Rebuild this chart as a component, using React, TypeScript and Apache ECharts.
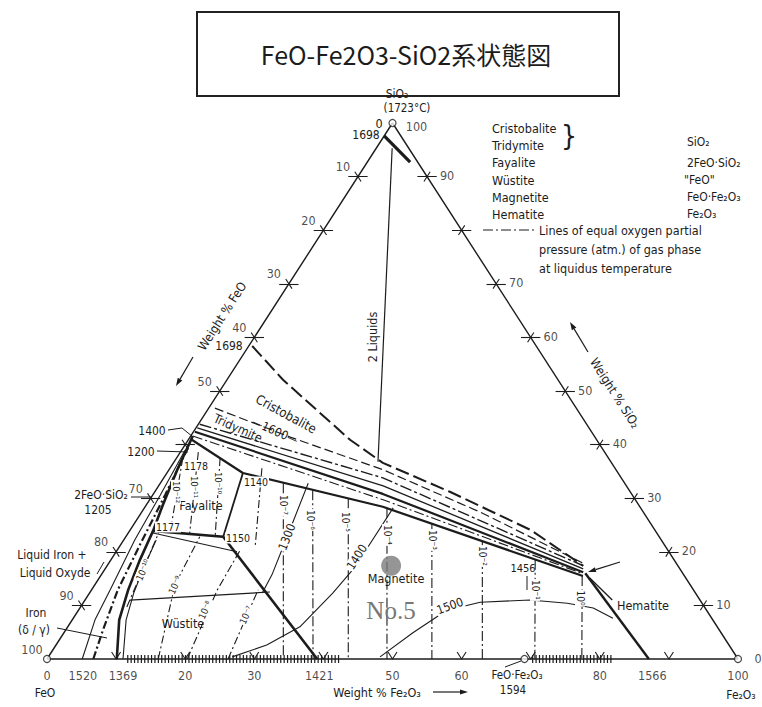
import React, { useEffect, useRef } from "react";
import * as echarts from "echarts";

// Every composition is [wt% Fe2O3, wt% SiO2]; wt% FeO = 100 - Fe2O3 - SiO2
const frame = [[0, 0], [100, 0], [0, 100], [0, 0]];
const tickValues = [10, 20, 30, 40, 50, 60, 70, 80, 90];
const leftTickLabels = [10, 20, 30, 40, 50, 70, 80, 90, 100]; // wt% FeO
const rightTickLabels = [0, 10, 20, 30, 40, 50, 60, 70, 90]; // wt% SiO2
const bottomTickLabels = [0, 20, 30, 50, 60, 80, 100]; // wt% Fe2O3
const bottomTempNames = ["1520", "1369", "1421", "1566"];
const bottomTempFe2O3 = [5.2, 11.0, 39.4, 87.6];

const twoLiquids = [[2.3, 95.3], [29.5, 36.8]];
const apexLiquidus = [[0, 97.6], [6.2, 92.7]];
const cristobaliteLiquidus = [[0.5, 58.4], [8.1, 52.1], [23.4, 40.9], [30.3, 36.6], [42.7, 31.2], [57.9, 24.1], [68.9, 17.4]];
const iso1600 = [[0.9, 46.8], [14.5, 41.4], [31.0, 35.3], [49.0, 27.4], [68.6, 17.9]];
const bundle1 = [[0.2, 43.8], [31.7, 33.8], [68.9, 17.4]];
const bundle2 = [[0.2, 43.1], [32.5, 32.3], [69.2, 16.8]];
const bundle3 = [[0.2, 42.4], [33.2, 30.8], [69.5, 16.2]];
const bundle4 = [[0.3, 41.6], [33.8, 29.7], [69.6, 15.9]];
const bundle5 = [[0.5, 40.9], [11.0, 34.7], [34.4, 28.4], [69.8, 15.5]];
const hematiteBoundary = [[69.9, 16.0], [87.1, 0]];
const hematiteInner = [[71.0, 15.1], [76.3, 11.0]];
const iso1500 = [[48.0, 0.4], [50.5, 4.9], [53.3, 9.1], [57.4, 10.6], [64.4, 11.0], [70.1, 10.4], [74.3, 9.5], [78.1, 7.6]];
const iso1400 = [[26.6, 0.4], [30.5, 2.6], [33.6, 6.0], [35.2, 12.3], [36.0, 17.2], [36.0, 28.2]];
const iso1300 = [[21.4, 32.8], [23.1, 24.1], [24.7, 15.7], [25.0, 12.3]];
const magnetiteIsobars = [
  [[17.8, 32.8], [34.2, 0]],
  [[22.7, 31.5], [38.5, 0]],
  [[28.6, 30.0], [43.6, 0]],
  [[35.1, 28.2], [49.2, 0]],
  [[43.1, 25.2], [55.7, 0]],
  [[52.0, 22.0], [63.0, 0]],
  [[61.4, 18.5], [70.6, 0]],
  [[69.7, 15.5], [77.4, 0]],
];
const fayaliteIsobars = [
  [[0.9, 37.5], [5.9, 23.9]],
  [[2.6, 38.6], [8.9, 23.5]],
  [[6.3, 37.5], [12.8, 23.1]],
  [[13.3, 35.6], [19.5, 21.3]],
];
const wustiteIsobars = [
  [[6.7, 9.7], [4.3, 24.1]],
  [[16.1, 0], [11.6, 13.8], [10.7, 22.8]],
  [[20.3, 0], [18.2, 12.9], [17.8, 20.3]],
  [[26.2, 0], [24.1, 12.9]],
];
const fayaliteMagnetite = [[11.0, 34.7], [14.1, 22.8]];
const fayaliteWustite = [[3.4, 23.9], [14.1, 22.8]];
const wustiteMagnetite = [[14.1, 22.8], [39.1, 0]];
const thin1177 = [[3.6, 23.5], [17.5, 20.0]];
const wustiteHorizontal = [[6.5, 11.0], [26.0, 12.5]];
const ironLine1520 = [[5.1, 0], [3.3, 7.3], [2.7, 12.9], [1.6, 22.2], [1.1, 30.6], [0.5, 39.0]];
const ironLineDash = [[6.7, 0], [5.4, 5.4], [3.8, 12.9], [2.8, 21.3], [1.8, 30.6], [0.7, 39.4]];
const wustiteLiquidus = [[10.1, 0], [6.8, 7.3], [5.3, 12.9], [4.2, 18.5], [3.4, 23.9], [2.4, 28.7], [1.2, 35.3], [0.3, 41.6]];
const wustiteThin = [[11.0, 0], [7.8, 7.3], [6.4, 12.3], [5.4, 17.5], [4.7, 22.2]];
const hatchA = [[11.6, 0], [42.4, 0]];
const hatchB = [[70.2, 0], [81.9, 0]];
const openPoints = [[0, 0], [100, 0], [0, 100], [69.1, 0]];
const sampleNo5 = [41.1, 17.4];

const magnetiteIsobarLabels = ["10⁻⁷", "10⁻⁶", "10⁻⁵", "10⁻⁴", "10⁻³", "10⁻²", "10⁻¹", "10⁰"];

const INK = "#1c1c1c";
const FONT = "'Liberation Sans Narrow','DejaVu Sans Condensed','Liberation Sans',Arial,sans-serif";

const toXY = (p: number[]) => [p[0] + p[1] / 2, p[1]];

function curve(data: number[][], width: number, type: any = "solid", z = 3) {
  return {
    type: "line",
    data: data.map(toXY),
    symbol: "none",
    showSymbol: false,
    clip: false,
    silent: true,
    lineStyle: { color: INK, width, type },
    z,
  };
}

function T(text: string, x: number, y: number, o: any = {}) {
  const align = o.align || "center";
  const style: any = {
    text,
    fill: o.color || INK,
    fontSize: o.size || 12,
    fontFamily: o.font || FONT,
    textAlign: align,
    textVerticalAlign: "middle",
    align,
    verticalAlign: "middle",
  };
  if (o.bg) {
    style.backgroundColor = "#fff";
    style.padding = [0, 1];
  }
  return { type: "text", x, y, rotation: o.rot || 0, silent: true, z: 20, style };
}

function leader(points: number[][], width = 1) {
  return { type: "polyline", silent: true, z: 15, shape: { points }, style: { stroke: INK, lineWidth: width, fill: null } };
}

function arrow(x1: number, y1: number, x2: number, y2: number) {
  const dx = x2 - x1, dy = y2 - y1;
  const len = Math.sqrt(dx * dx + dy * dy);
  const ux = dx / len, uy = dy / len;
  const bx = x2 - ux * 8, by = y2 - uy * 8;
  return [
    { type: "line", silent: true, z: 15, shape: { x1, y1, x2: bx, y2: by }, style: { stroke: INK, lineWidth: 1.2 } },
    {
      type: "polygon", silent: true, z: 15,
      shape: { points: [[x2, y2], [bx - uy * 2.6, by + ux * 2.6], [bx + uy * 2.6, by - ux * 2.6]] },
      style: { fill: INK },
    },
  ];
}

export default function App() {
  const ref = useRef<HTMLDivElement>(null);
  useEffect(() => {
    if (!ref.current) return;
    const chart = echarts.init(ref.current, undefined, { renderer: "svg" });

    const tickSegs: number[][][] = [];
    tickValues.forEach((v) => {
      tickSegs.push([[v, 0], [v, 1.3]]);
      tickSegs.push([[v, 0], [v - 1.3, 1.3]]);
      tickSegs.push([[v, 0], [v + 0.6, -1.2]]);
      tickSegs.push([[-1.4, 100 - v], [1.4, 100 - v]]);
      tickSegs.push([[0.9, 99.1 - v], [-0.9, 100.9 - v]]);
      tickSegs.push([[98.6 - v, v], [101.4 - v, v]]);
      tickSegs.push([[100 - v, v - 0.9], [100 - v, v + 0.9]]);
    });

    const labelStyle = { show: true, formatter: "{b}", position: "inside", color: INK, fontSize: 12.5, fontFamily: FONT };
    const tickLabelSeries = (data: any[], offset: number[]) => ({
      type: "scatter",
      data,
      symbolSize: 1,
      itemStyle: { color: "rgba(0,0,0,0)" },
      silent: true,
      clip: false,
      label: { ...labelStyle, offset },
      z: 6,
    });

    const series: any[] = [
      curve(frame, 1.4, "solid", 4),
      {
        type: "lines",
        coordinateSystem: "cartesian2d",
        data: tickSegs.map((s) => ({ coords: s.map(toXY) })),
        lineStyle: { color: INK, width: 1.1, opacity: 1 },
        silent: true,
        z: 4,
      },
      curve(hatchA, 8, [1.2, 2.2], 2),
      curve(hatchB, 8, [1.2, 2.2], 2),
      curve(twoLiquids, 1.2),
      curve(apexLiquidus, 3.2),
      curve(cristobaliteLiquidus, 2, [14, 5]),
      curve(iso1600, 1.2, [9, 4]),
      curve(bundle1, 1.4, [12, 3, 3, 3]),
      curve(bundle2, 1.3),
      curve(bundle3, 2.2),
      curve(bundle4, 1.1, [10, 3, 2, 3]),
      curve(bundle5, 2.2),
      curve(hematiteBoundary, 2.4),
      curve(hematiteInner, 1.3),
      curve(iso1500, 1.1),
      curve(iso1400, 1.1),
      curve(iso1300, 1.1),
      curve(fayaliteMagnetite, 1.8),
      curve(fayaliteWustite, 2.6),
      curve(wustiteMagnetite, 2.6),
      curve(thin1177, 1.1),
      curve(wustiteHorizontal, 1.2),
      curve(ironLine1520, 1.1),
      curve(ironLineDash, 2.2, [8, 3, 2, 3]),
      curve(wustiteLiquidus, 2.6),
      curve(wustiteThin, 1.1),
      ...magnetiteIsobars.map((d) => curve(d, 1.1, [10, 3, 2, 3])),
      ...fayaliteIsobars.map((d) => curve(d, 1.1, [8, 3, 2, 3])),
      ...wustiteIsobars.map((d) => curve(d, 1.1, [8, 3, 2, 3])),
      {
        type: "scatter",
        data: openPoints.map(toXY),
        symbol: "circle",
        symbolSize: 7,
        itemStyle: { color: "#fff", borderColor: INK, borderWidth: 1.2 },
        silent: true,
        clip: false,
        z: 7,
      },
      {
        type: "scatter",
        data: [toXY(sampleNo5)],
        symbol: "circle",
        symbolSize: 20,
        itemStyle: { color: "#7a7a7a" },
        silent: true,
        z: 9,
      },
      tickLabelSeries(leftTickLabels.map((v) => ({ name: String(v), value: toXY([0, 100 - v]) })), [-15, -10]),
      tickLabelSeries(rightTickLabels.map((v) => ({ name: String(v), value: toXY([100 - v, v]) })), [20, -1]),
      tickLabelSeries([{ name: "100", value: toXY([0, 100]) }], [24, 3]),
      tickLabelSeries(bottomTickLabels.map((v) => ({ name: String(v), value: toXY([v, 0]) })), [0, 16]),
      tickLabelSeries(bottomTempNames.map((n, i) => ({ name: n, value: toXY([bottomTempFe2O3[i], 0]) })), [0, 16]),
    ];

    const magnetiteLabelPos = [[283, 505], [310, 520], [345, 522], [387, 535], [432, 540], [482, 556], [535, 590], [580, 598]];
    const graphic: any[] = [
      { type: "rect", silent: true, z: 20, shape: { x: 197, y: 12, width: 422, height: 84 }, style: { fill: "#fff", stroke: "#222", lineWidth: 2 } },
      T("FeO-Fe2O3-SiO2系状態図", 406, 54, { size: 25, font: "'Noto Sans CJK JP',sans-serif" }),
      // legend
      T("Cristobalite", 492, 128, { align: "left", size: 12.5 }),
      T("Tridymite", 492, 145, { align: "left", size: 12.5 }),
      T("}", 569, 136, { size: 28 }),
      T("SiO₂", 687, 142, { align: "left", size: 12 }),
      T("Fayalite", 492, 162, { align: "left", size: 12.5 }),
      T("2FeO·SiO₂", 687, 163, { align: "left", size: 12 }),
      T("Wüstite", 492, 180, { align: "left", size: 12.5 }),
      T("\"FeO\"", 684, 180, { align: "left", size: 12 }),
      T("Magnetite", 492, 197, { align: "left", size: 12.5 }),
      T("FeO·Fe₂O₃", 687, 197, { align: "left", size: 12 }),
      T("Hematite", 492, 214, { align: "left", size: 12.5 }),
      T("Fe₂O₃", 687, 214, { align: "left", size: 12 }),
      { type: "line", silent: true, z: 15, shape: { x1: 483, y1: 230, x2: 537, y2: 230 }, style: { stroke: INK, lineWidth: 1.1, lineDash: [10, 3, 2, 3] } },
      T("Lines of equal oxygen partial", 539, 230, { align: "left", size: 12.5 }),
      T("pressure (atm.) of gas phase", 539, 249, { align: "left", size: 12.5 }),
      T("at liquidus temperature", 539, 268, { align: "left", size: 12.5 }),
      // apex
      T("SiO₂", 397, 94),
      T("(1723°C)", 407, 108, { size: 11.5 }),
      T("0", 379, 123, { size: 12.5 }),
      T("1698", 366, 135),
      // left side
      T("1698", 229, 346),
      T("Weight % FeO", 222, 316, { rot: 1.0, size: 12.5 }),
      ...arrow(193, 357, 176, 386),
      T("1400", 152, 431),
      leader([[168, 430], [182, 428], [193, 437]]),
      T("1200", 141, 452),
      leader([[157, 451], [188, 452]]),
      T("2FeO·SiO₂", 101, 495),
      leader([[131, 497], [152, 497]]),
      T("1205", 98, 510),
      T("Liquid Iron +", 52, 555),
      T("Liquid Oxyde", 55, 573),
      leader([[97, 574], [104, 562]]),
      T("Iron", 36, 613),
      T("(δ / γ)", 34, 630),
      leader([[57, 628], [107, 638]]),
      // bottom
      T("FeO", 45, 693),
      T("Weight % Fe₂O₃", 377, 692, { size: 12.5 }),
      ...arrow(433, 692, 468, 692),
      T("FeO·Fe₂O₃", 517, 675, { size: 11.5 }),
      T("1594", 513, 690, { size: 11.5 }),
      leader([[505, 667], [521, 661]]),
      T("Fe₂O₃", 741, 695),
      // fields
      T("Cristobalite", 286, 414, { rot: -0.5, size: 13 }),
      T("—1600—", 275, 431, { rot: -0.42, size: 12 }),
      T("Tridymite", 238, 428, { rot: -0.42, size: 12.5 }),
      T("2 Liquids", 372, 337, { rot: Math.PI / 2, size: 12.5 }),
      T("1178", 196, 466, { size: 10.5, bg: true }),
      T("Fayalite", 201, 505, { size: 12.5 }),
      T("1177", 168, 527, { size: 10.5, bg: true }),
      T("1150", 238, 538, { size: 10.5, bg: true }),
      T("1140", 256, 482, { size: 10.5, bg: true }),
      T("1300", 287, 537, { rot: 1.2, bg: true }),
      T("1400", 357, 557, { rot: 1.0, bg: true }),
      T("Magnetite", 396, 578, { size: 12.5 }),
      T("Wüstite", 183, 623, { size: 12.5 }),
      T("1456", 523, 568, { size: 11 }),
      leader([[527, 576], [527, 590]]),
      T("1500", 450, 606, { rot: 0.35, bg: true }),
      T("Hematite", 643, 605, { size: 12.5 }),
      T("Weight % SiO₂", 615, 393, { rot: -1.0, size: 12.5 }),
      ...arrow(588, 352, 570, 322),
      ...arrow(620, 562, 588, 572),
      ...magnetiteIsobarLabels.map((t, i) => T(t, magnetiteLabelPos[i][0], magnetiteLabelPos[i][1], { rot: -Math.PI / 2, size: 10, bg: true })),
      T("10⁻¹²", 176, 492, { rot: -Math.PI / 2, size: 9.5, bg: true }),
      T("10⁻¹¹", 194, 487, { rot: -Math.PI / 2, size: 9.5, bg: true }),
      T("10⁻¹⁰", 218, 483, { rot: -Math.PI / 2, size: 9.5, bg: true }),
      T("10⁻¹⁰", 143, 570, { rot: 1.15, size: 9.5, bg: true }),
      T("10⁻⁹", 175, 585, { rot: 1.15, size: 9.5, bg: true }),
      T("10⁻⁸", 205, 610, { rot: 1.15, size: 9.5, bg: true }),
      T("10⁻⁷", 246, 615, { rot: 1.15, size: 9.5, bg: true }),
      // sample marker label
      T("No.5", 391, 610, { size: 25, color: "#777", font: "'Liberation Serif','DejaVu Serif',serif" }),
    ];

    chart.setOption({
      animation: false,
      backgroundColor: "#fff",
      grid: { left: 47, right: 24, top: 123, bottom: 48 },
      xAxis: { type: "value", min: 0, max: 100, show: false },
      yAxis: { type: "value", min: 0, max: 100, show: false },
      series,
      graphic,
    });
    return () => chart.dispose();
  }, []);
  return <div ref={ref} style={{ position: "fixed", left: 0, top: 0, width: 762, height: 707, background: "#fff" }} />;
}
